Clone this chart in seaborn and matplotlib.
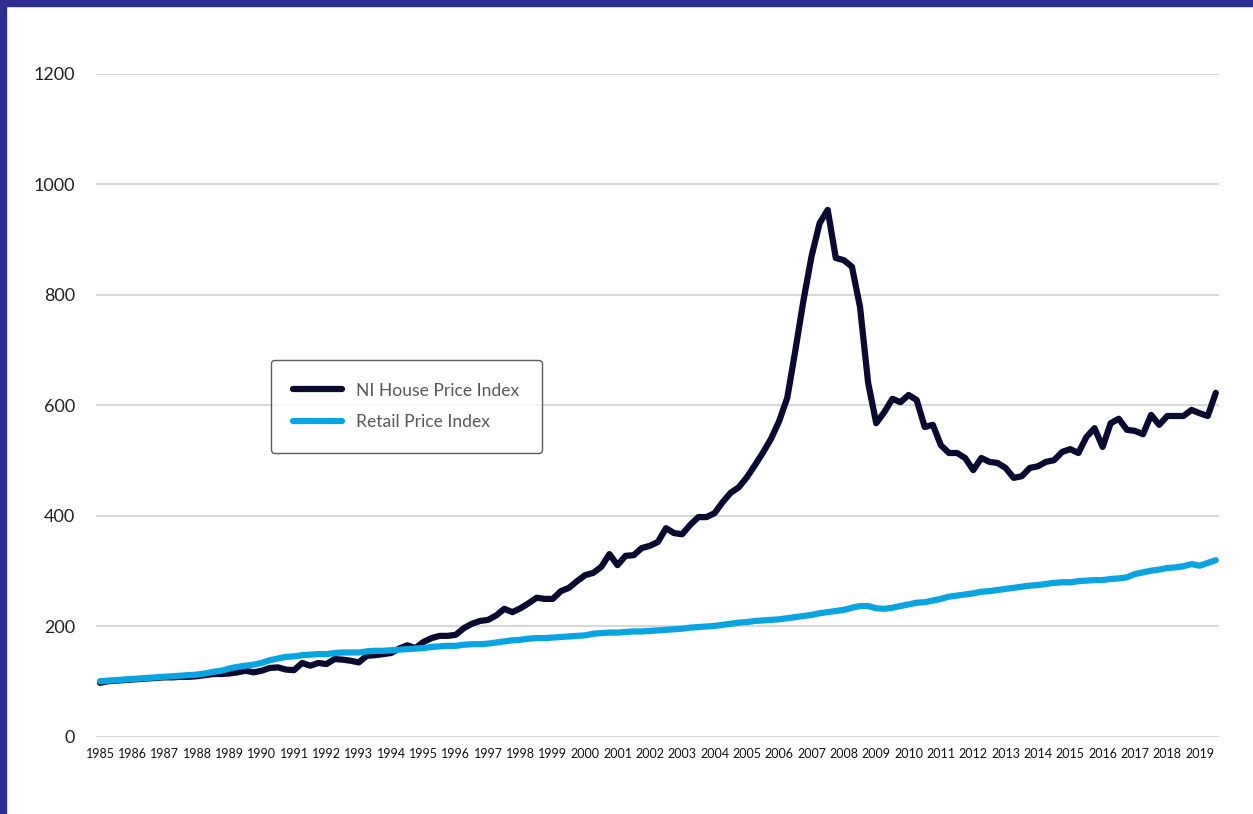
import numpy as np
import pandas as pd
import matplotlib
matplotlib.use("Agg")
import matplotlib.pyplot as plt
from matplotlib.patches import Rectangle
import seaborn as sns

# quarterly series, 1985 Q1 .. 2019 Q3
years = list(range(1985, 2020))

hpi = [
    98, 101, 102, 103,      # 1985
    104, 105, 106, 107,     # 1986
    108, 108, 109, 109,     # 1987
    110, 112, 114, 114,     # 1988
    115, 117, 120, 117,     # 1989
    120, 125, 126, 122,     # 1990
    121, 134, 129, 134,     # 1991
    132, 141, 140, 138,     # 1992
    135, 147, 148, 150,     # 1993
    152, 160, 166, 161,     # 1994
    172, 179, 183, 183,     # 1995
    185, 197, 205, 210,     # 1996
    212, 220, 232, 226,     # 1997
    233, 242, 252, 250,     # 1998
    250, 264, 270, 282,     # 1999
    293, 297, 308, 331,     # 2000
    311, 328, 329, 342,     # 2001
    346, 353, 378, 369,     # 2002
    367, 384, 398, 398,     # 2003
    405, 425, 442, 452,     # 2004
    470, 492, 515, 540,     # 2005
    572, 614, 700, 790,     # 2006
    870, 930, 954, 867,     # 2007
    863, 851, 778, 641,     # 2008
    568, 588, 612, 606,     # 2009
    619, 610, 561, 565,     # 2010
    528, 514, 514, 505,     # 2011
    483, 505, 498, 496,     # 2012
    487, 469, 472, 487,     # 2013
    490, 498, 501, 516,     # 2014
    521, 514, 543, 559,     # 2015
    525, 568, 576, 556,     # 2016
    554, 548, 583, 565,     # 2017
    581, 581, 581, 592,     # 2018
    586, 581, 623,          # 2019
]

rpi = [
    101, 102, 103, 104,     # 1985
    105, 106, 107, 108,     # 1986
    109, 110, 111, 112,     # 1987
    113, 115, 118, 120,     # 1988
    124, 127, 129, 131,     # 1989
    134, 139, 142, 145,     # 1990
    146, 148, 149, 150,     # 1991
    150, 152, 153, 153,     # 1992
    153, 155, 156, 156,     # 1993
    157, 158, 159, 160,     # 1994
    161, 163, 164, 165,     # 1995
    165, 167, 168, 168,     # 1996
    169, 171, 173, 175,     # 1997
    176, 178, 179, 179,     # 1998
    180, 181, 182, 183,     # 1999
    184, 187, 188, 189,     # 2000
    189, 190, 191, 191,     # 2001
    192, 193, 194, 195,     # 2002
    196, 198, 199, 200,     # 2003
    201, 203, 205, 207,     # 2004
    208, 210, 211, 212,     # 2005
    213, 215, 217, 219,     # 2006
    221, 224, 226, 228,     # 2007
    230, 234, 237, 237,     # 2008
    233, 232, 234, 237,     # 2009
    240, 243, 244, 247,     # 2010
    250, 254, 256, 258,     # 2011
    260, 263, 264, 266,     # 2012
    268, 270, 272, 274,     # 2013
    275, 277, 279, 280,     # 2014
    280, 282, 283, 284,     # 2015
    284, 286, 287, 289,     # 2016
    295, 298, 301, 303,     # 2017
    306, 307, 309, 313,     # 2018
    310, 315, 320,          # 2019
]

quarter = np.arange(len(hpi))
df = pd.DataFrame({"quarter": quarter, "hpi": hpi, "rpi": rpi})

sns.set_theme(style="white")
plt.rcParams["font.family"] = ["Lato", "DejaVu Sans"]

fig = plt.figure(figsize=(12.53, 8.14), dpi=100)
ax = fig.add_axes([0.0766, 0.0946, 0.8963, 0.8145])

sns.lineplot(data=df, x="quarter", y="hpi", ax=ax, color="#0a0a30",
             linewidth=4.5, label="NI House Price Index")
sns.lineplot(data=df, x="quarter", y="rpi", ax=ax, color="#0aa5e0",
             linewidth=4.5, label="Retail Price Index")

ax.set_ylim(0, 1200)
ax.set_xlim(-0.5, 138.4)
ax.set_yticks(range(0, 1201, 200))
ax.set_xticks(range(0, len(hpi), 4))
ax.set_xticklabels([str(y) for y in years])
ax.yaxis.grid(True, color="#d9d9d9", linewidth=1.5)
ax.xaxis.grid(False)
ax.set_axisbelow(True)
for s in ax.spines.values():
    s.set_visible(False)
ax.set_xlabel("")
ax.set_ylabel("")
ax.tick_params(axis="y", labelsize=13, pad=15, colors="#222222", length=0)
ax.tick_params(axis="x", labelsize=9, pad=8, colors="#111111", length=0)

leg = ax.legend(loc="upper left", bbox_to_anchor=(0.216, 0.558),
                bbox_transform=fig.transFigure, frameon=True, fancybox=True,
                fontsize=12.6, handlelength=2.8, labelspacing=0.87,
                borderpad=1.3, handletextpad=0.75, borderaxespad=0)
leg.get_frame().set_edgecolor("#333333")
leg.get_frame().set_linewidth(1.0)
for t in leg.get_texts():
    t.set_color("#595959")

# dark frame on the top and left edges
fig.patches.append(Rectangle((0, 1 - 6 / 814), 1, 6 / 814, transform=fig.transFigure,
                             color="#2e3192", zorder=10))
fig.patches.append(Rectangle((0, 0), 6 / 1253, 1, transform=fig.transFigure,
                             color="#2e3192", zorder=10))

fig.savefig("out.png", dpi=100)
